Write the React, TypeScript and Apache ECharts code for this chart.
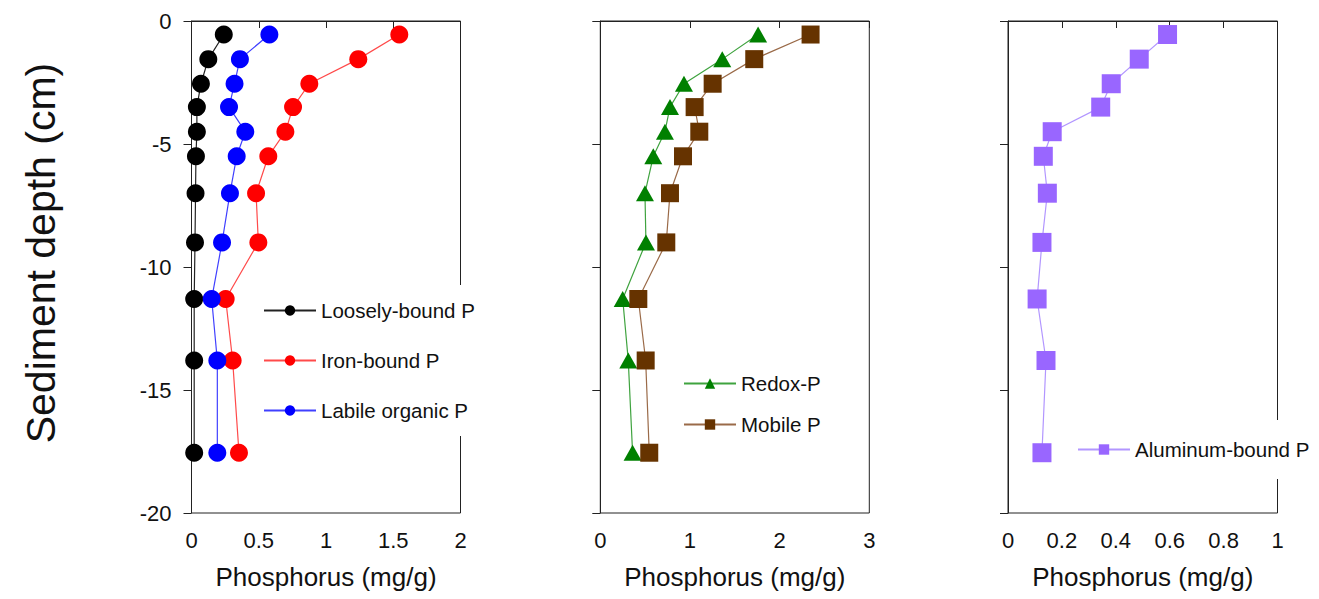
import React, { useEffect, useRef } from "react";
import * as echarts from "echarts";

const depths = [-0.55, -1.55, -2.55, -3.5, -4.5, -5.5, -7, -9, -11.3, -13.8, -17.55];
const looselyBound = [0.24, 0.125, 0.07, 0.04, 0.04, 0.033, 0.03, 0.026, 0.02, 0.02, 0.02];
const ironBound = [1.545, 1.24, 0.876, 0.755, 0.698, 0.571, 0.48, 0.497, 0.254, 0.306, 0.353];
const labileOrganic = [0.579, 0.36, 0.32, 0.279, 0.4, 0.336, 0.286, 0.227, 0.15, 0.192, 0.192];
const redoxP = [1.76, 1.36, 0.933, 0.777, 0.721, 0.591, 0.498, 0.509, 0.25, 0.312, 0.36];
const mobileP = [2.345, 1.717, 1.253, 1.052, 1.104, 0.922, 0.777, 0.736, 0.424, 0.506, 0.546];
const aluminumBound = [0.592, 0.487, 0.383, 0.344, 0.164, 0.131, 0.146, 0.126, 0.108, 0.141, 0.126];

const xMax = [2, 3, 1];
const xInterval = [0.5, 1, 0.2];
const xName = "Phosphorus (mg/g)";
const yName = "Sediment depth (cm)";

const FONT = "'Liberation Sans', Arial, sans-serif";
const AXIS = "#222";

const pairs = (vals: number[]) => vals.map((v, i) => [v, depths[i]]);

export default function App() {
  const ref = useRef<HTMLDivElement>(null);
  useEffect(() => {
    if (!ref.current) return;
    const chart = echarts.init(ref.current, undefined, { renderer: "svg" });
    const grids = [
      { left: 191.5, top: 21, width: 269, height: 492 },
      { left: 600.3, top: 21, width: 269, height: 492 },
      { left: 1008, top: 21, width: 269.5, height: 492 },
    ].map((g) => ({ ...g, show: true, borderColor: AXIS, borderWidth: 1, backgroundColor: "transparent" }));

    const xAxes = [0, 1, 2].map((i) => ({
      type: "value",
      gridIndex: i,
      min: 0,
      max: xMax[i],
      interval: xInterval[i],
      name: xName,
      nameLocation: "middle",
      nameGap: 51,
      nameTextStyle: { fontSize: 26, fontFamily: FONT, color: "#111" },
      axisLine: { show: true, lineStyle: { color: AXIS, width: 1 } },
      axisTick: { show: true, inside: false, length: 7, lineStyle: { color: AXIS } },
      axisLabel: { fontSize: 22, fontFamily: FONT, color: "#111", margin: 16 },
      splitLine: { show: false },
    }));

    const yAxes = [0, 1, 2].map((i) => ({
      type: "value",
      gridIndex: i,
      min: -20,
      max: 0,
      interval: 5,
      axisLine: { show: true, lineStyle: { color: AXIS, width: 1 } },
      axisTick: { show: true, inside: false, length: 8, lineStyle: { color: AXIS } },
      axisLabel: { show: i === 0, fontSize: 22, fontFamily: FONT, color: "#111", margin: 20 },
      splitLine: { show: false },
    }));

    const mk = (
      name: string,
      vals: number[],
      idx: number,
      color: string,
      lineColor: string,
      symbol: string,
      size: number | number[]
    ) => ({
      name,
      type: "line",
      xAxisIndex: idx,
      yAxisIndex: idx,
      data: pairs(vals),
      symbol,
      symbolSize: size,
      showSymbol: true,
      itemStyle: { color },
      lineStyle: { color: lineColor, width: 1.2 },
      emphasis: { disabled: true },
    });

    const series = [
      mk("Loosely-bound P", looselyBound, 0, "#000000", "#222222", "circle", 18),
      mk("Iron-bound P", ironBound, 0, "#ff0000", "#ff4a4a", "circle", 18),
      mk("Labile organic P", labileOrganic, 0, "#0000ff", "#4040ff", "circle", 18),
      mk("Redox-P", redoxP, 1, "#008000", "#3fa33f", "triangle", [18, 16]),
      mk("Mobile P", mobileP, 1, "#663300", "#9a6a48", "rect", 18),
      mk("Aluminum-bound P", aluminumBound, 2, "#9966ff", "#b296ff", "rect", 19),
    ];

    const legendText = { fontSize: 20.5, fontFamily: FONT, color: "#111" };
    const legend = [
      {
        data: ["Loosely-bound P", "Iron-bound P", "Labile organic P"],
        orient: "vertical",
        left: 259,
        top: 285,
        itemWidth: 52,
        itemHeight: 13,
        itemGap: 29,
        padding: [15, 4, 15, 4],
        backgroundColor: "#fff",
        textStyle: legendText,
        selectedMode: false,
      },
      {
        data: ["Redox-P", "Mobile P"],
        orient: "vertical",
        left: 679,
        top: 368,
        itemWidth: 52,
        itemHeight: 13,
        itemGap: 20,
        padding: [5, 4, 5, 4],
        backgroundColor: "#fff",
        textStyle: legendText,
        selectedMode: false,
      },
      {
        data: ["Aluminum-bound P"],
        orient: "vertical",
        left: 1073,
        top: 420,
        itemWidth: 52,
        itemHeight: 13,
        itemGap: 10,
        padding: [19, 4, 19, 4],
        backgroundColor: "#fff",
        textStyle: legendText,
        selectedMode: false,
      },
    ];

    chart.setOption({
      animation: false,
      backgroundColor: "#fff",
      grid: grids,
      xAxis: xAxes,
      yAxis: yAxes,
      legend,
      series,
      graphic: [
        {
          type: "text",
          x: 41,
          y: 253,
          rotation: Math.PI / 2,
          style: {
            text: yName,
            fontSize: 41,
            fontFamily: FONT,
            fill: "#111",
            align: "center",
            verticalAlign: "middle",
          },
        },
      ],
    });
    return () => chart.dispose();
  }, []);
  return (
    <div
      ref={ref}
      style={{ position: "fixed", left: 0, top: 0, width: 1319, height: 599, background: "#fff" }}
    />
  );
}
